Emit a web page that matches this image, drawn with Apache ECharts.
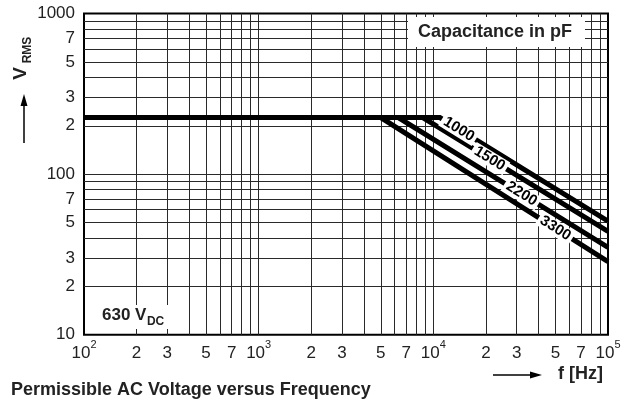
<!DOCTYPE html>
<html><head><meta charset="utf-8">
<script src="https://cdn.jsdelivr.net/npm/echarts@6/dist/echarts.min.js"></script>
<style>html,body{margin:0;padding:0;background:#fff}#c{width:626px;height:400px}</style>
</head><body><div id="c"></div>
<script>
// ---- data ----
const capacitances = ['1000', '1500', '2200', '3300'];      // pF
const flatVoltage = 225;                                   // V RMS plateau
const startFreq = 100;                                     // Hz
const endFreq = 100000;                                    // Hz
const breakFreqs = [10900, 8700, 6300, 5000];              // Hz where roll-off begins
const endVoltages = [51, 44, 35, 28.5];                    // V RMS at 100 kHz
const labelFreqs = [14000, 21000, 32000, 50000];           // where curve labels sit

const xGridValues = [200, 300, 400, 500, 600, 700, 800, 900, 1000,
  2000, 3000, 4000, 5000, 6000, 7000, 8000, 9000, 10000,
  20000, 30000, 40000, 50000, 60000, 70000, 80000, 90000];
const xLabelValues = [100, 200, 300, 500, 700, 1000, 2000, 3000, 5000, 7000, 10000, 20000, 30000, 50000, 70000, 100000];
const xLabelTexts = ['10^2', '2', '3', '5', '7', '10^3', '2', '3', '5', '7', '10^4', '2', '3', '5', '7', '10^5'];

const yGridValues = [20, 30, 40, 50, 60, 70, 80, 90, 100,
  200, 300, 400, 500, 600, 700, 800, 900];
const yLabelValues = [10, 20, 30, 50, 70, 100, 200, 300, 500, 700, 1000];
const yLabelTexts = ['10', '2', '3', '5', '7', '100', '2', '3', '5', '7', '1000'];

// ---- chart ----
const FONT = '"Liberation Sans", Arial, Helvetica, sans-serif';
const chart = echarts.init(document.getElementById('c'), null, {renderer: 'canvas'});

function textWidth(str, font) {
  const ctx = document.createElement('canvas').getContext('2d');
  ctx.font = font;
  return ctx.measureText(str).width;
}

function xFmt(v) {
  const i = xLabelValues.findIndex(a => Math.abs(a - v) / a < 1e-6);
  if (i < 0) return '';
  const t = xLabelTexts[i];
  if (t.indexOf('^') >= 0) {
    const p = t.split('^');
    return '{b|' + p[0] + '}{s|' + p[1] + '}';
  }
  return '{b|' + t + '}';
}
function yFmt(v) {
  const i = yLabelValues.findIndex(a => Math.abs(a - v) / a < 1e-6);
  return i < 0 ? '' : yLabelTexts[i];
}

const series = capacitances.map((c, i) => ({
  type: 'line',
  name: c,
  data: [[startFreq, flatVoltage], [breakFreqs[i], flatVoltage], [endFreq, endVoltages[i]]],
  symbol: 'none',
  clip: true,
  lineStyle: {color: '#000', width: 5, cap: 'butt', join: 'miter'},
  z: 3
}));

const dcMain = '630 V';
const dcMainX = 102;
const dcSubX = dcMainX + textWidth(dcMain, 'bold 17px ' + FONT) + 0.5;

const option = {
  animation: false,
  backgroundColor: '#fff',
  grid: {left: 84, right: 18, top: 13.5, bottom: 65.3, show: true, borderColor: '#000', borderWidth: 2, backgroundColor: 'transparent'},
  xAxis: {
    type: 'log', logBase: 10, min: startFreq, max: endFreq,
    axisLine: {show: false},
    axisTick: {show: false, customValues: xGridValues},
    splitLine: {show: true, lineStyle: {color: '#2a2a2a', width: 1}},
    axisLabel: {
      customValues: xLabelValues, formatter: xFmt, margin: 5,
      color: '#222', fontFamily: FONT,
      rich: {
        b: {fontSize: 17, fontFamily: FONT, color: '#222', padding: [5, 0, 0, 0], verticalAlign: 'bottom'},
        s: {fontSize: 11, fontFamily: FONT, color: '#222', verticalAlign: 'top'}
      }
    }
  },
  yAxis: {
    type: 'log', logBase: 10, min: 10, max: 1000,
    axisLine: {show: false},
    axisTick: {show: false, customValues: yGridValues},
    splitLine: {show: true, lineStyle: {color: '#2a2a2a', width: 1}},
    axisLabel: {customValues: yLabelValues, formatter: yFmt, margin: 9, fontSize: 17, color: '#222', fontFamily: FONT}
  },
  series: series,
  graphic: [
    // V_RMS with arrow
    {type: 'text', x: 20.5, y: 73.3, rotation: Math.PI / 2, z: 100,
      style: {text: 'V', fontSize: 19, fontWeight: 'bold', fontFamily: FONT, fill: '#222', align: 'center', verticalAlign: 'middle'}},
    {type: 'text', x: 28, y: 50, rotation: Math.PI / 2, z: 100,
      style: {text: 'RMS', fontSize: 12, fontWeight: 'bold', fontFamily: FONT, fill: '#222', align: 'center', verticalAlign: 'middle'}},
    {type: 'line', z: 100, shape: {x1: 24, y1: 143, x2: 24, y2: 104}, style: {stroke: '#000', lineWidth: 1.5}},
    {type: 'polygon', z: 100, shape: {points: [[24, 94], [20.5, 106], [27.5, 106]]}, style: {fill: '#000'}},
    // 630 V_DC
    {type: 'rect', z: 100, shape: {x: 96, y: 305, width: 80, height: 24}, style: {fill: '#fff'}},
    {type: 'text', x: dcMainX, y: 315, z: 101,
      style: {text: dcMain, fontSize: 17, fontWeight: 'bold', fontFamily: FONT, fill: '#222', verticalAlign: 'middle'}},
    {type: 'text', x: dcSubX, y: 322, z: 101,
      style: {text: 'DC', fontSize: 12, fontWeight: 'bold', fontFamily: FONT, fill: '#222', verticalAlign: 'middle'}},
    // legend box
    {type: 'rect', z: 100, shape: {x: 408, y: 17, width: 177, height: 30}, style: {fill: '#fff'}},
    {type: 'text', x: 418, y: 32, z: 101,
      style: {text: 'Capacitance in pF', fontSize: 18, fontWeight: 'bold', fontFamily: FONT, fill: '#222', verticalAlign: 'middle'}},
    // f [Hz]
    {type: 'line', z: 100, shape: {x1: 493, y1: 375, x2: 533, y2: 375}, style: {stroke: '#000', lineWidth: 1.5}},
    {type: 'polygon', z: 100, shape: {points: [[542, 375], [530, 371.5], [530, 378.5]]}, style: {fill: '#000'}},
    {type: 'text', x: 558, y: 374, z: 100,
      style: {text: 'f [Hz]', fontSize: 18, fontWeight: 'bold', fontFamily: FONT, fill: '#222', verticalAlign: 'middle'}},
    // caption
    {type: 'text', x: 11, y: 390, z: 100,
      style: {text: 'Permissible AC Voltage versus Frequency', fontSize: 18, fontWeight: 'bold', fontFamily: FONT, fill: '#222', verticalAlign: 'middle'}}
  ]
};
chart.setOption(option);

// curve labels: placed on each curve, rotated to its on-screen slope
const lg = Math.log10;
const markSeries = capacitances.map((c, i) => {
  const fb = breakFreqs[i], ve = endVoltages[i];
  const t = (lg(labelFreqs[i]) - lg(fb)) / (lg(endFreq) - lg(fb));
  const v = Math.pow(10, lg(flatVoltage) + t * (lg(ve) - lg(flatVoltage)));
  const p1 = chart.convertToPixel({gridIndex: 0}, [fb, flatVoltage]);
  const p2 = chart.convertToPixel({gridIndex: 0}, [endFreq, ve]);
  const ang = -Math.atan2(p2[1] - p1[1], p2[0] - p1[0]) * 180 / Math.PI;
  return {
    markPoint: {
      z: 10,
      symbol: 'rect', symbolSize: 0,
      data: [{coord: [labelFreqs[i], v]}],
      label: {
        show: true, position: 'inside', formatter: c, rotate: ang,
        fontSize: 15, fontWeight: 'bold', fontFamily: FONT, color: '#000',
        backgroundColor: '#fff', padding: [0, 3, 0, 3]
      }
    }
  };
});
chart.setOption({series: markSeries});
</script></body></html>
